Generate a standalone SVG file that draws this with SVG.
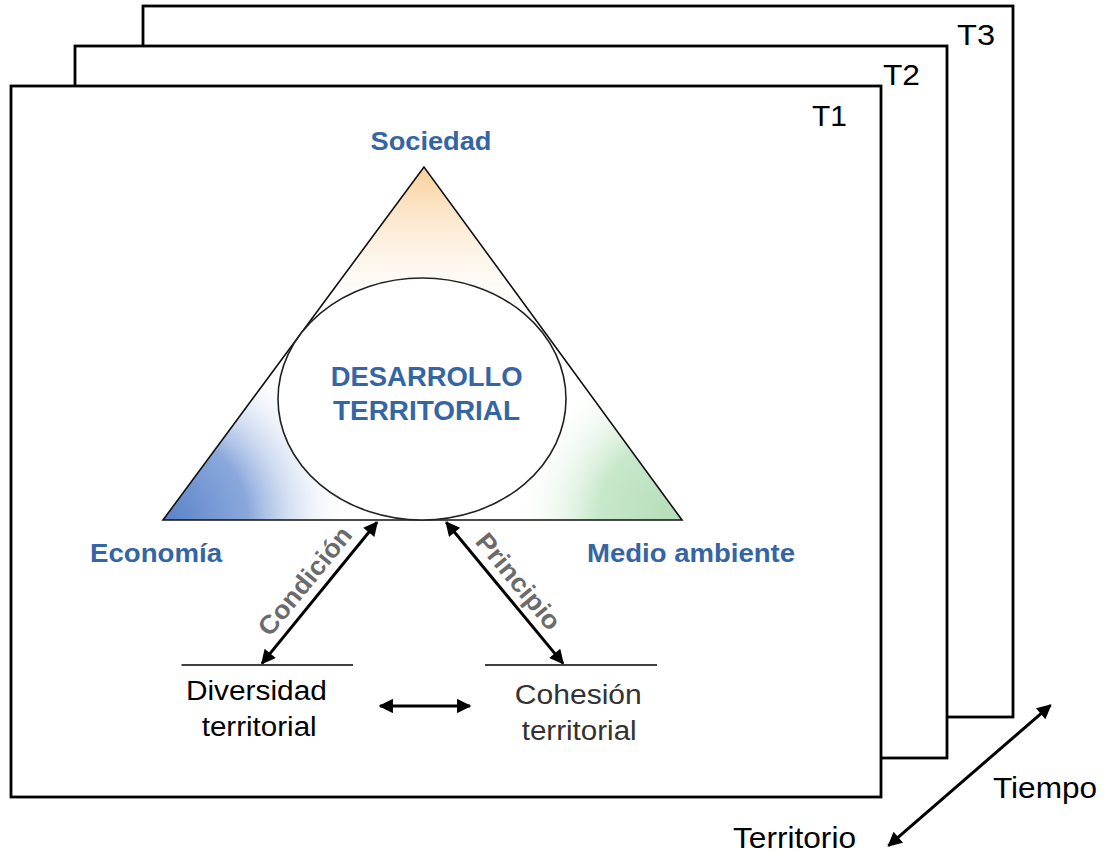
<svg xmlns="http://www.w3.org/2000/svg" width="1108" height="857" viewBox="0 0 1108 857">
<style>
.frame{fill:#fff;stroke:#000;stroke-width:2.8}
.tl{font-family:"Liberation Sans",Arial,sans-serif;font-size:29px;fill:#000}
.blue{font-family:"Liberation Sans",Arial,sans-serif;font-weight:bold;font-size:26px;fill:#3465A4}
.reg{font-family:"Liberation Sans",Arial,sans-serif;font-size:27px;fill:#000}
.gray{font-family:"Liberation Sans",Arial,sans-serif;font-weight:bold;font-size:26px;fill:#6b6b6b}
.arr{stroke:#000;stroke-width:3;fill:none;marker-start:url(#ah);marker-end:url(#ah)}
.ul{stroke:#000;stroke-width:1.5}
</style>
<defs>
<marker id="ah" viewBox="0 0 10 10" refX="9" refY="5" markerWidth="5.5" markerHeight="4.8" markerUnits="strokeWidth" orient="auto-start-reverse">
<path d="M0,0 L10,5 L0,10 z" fill="#000"/>
</marker>
<clipPath id="tri"><path d="M424,167 L163,520 L682,520 z"/></clipPath>
<linearGradient id="gOr" x1="0" y1="167" x2="0" y2="310" gradientUnits="userSpaceOnUse">
<stop offset="0" stop-color="#F8CF98"/>
<stop offset="1" stop-color="#FDF1E2" stop-opacity="0"/>
</linearGradient>
<radialGradient id="gBl" cx="163" cy="520" r="190" gradientUnits="userSpaceOnUse">
<stop offset="0" stop-color="#5A82C8"/>
<stop offset="0.45" stop-color="#8AA8DC"/>
<stop offset="1" stop-color="#FFFFFF" stop-opacity="0"/>
</radialGradient>
<radialGradient id="gGr" cx="682" cy="520" r="170" gradientUnits="userSpaceOnUse">
<stop offset="0" stop-color="#B4DDB8"/>
<stop offset="0.5" stop-color="#C8E8CB"/>
<stop offset="1" stop-color="#FFFFFF" stop-opacity="0"/>
</radialGradient>
</defs>

<g id="frame-T3">
<rect class="frame" x="143" y="6" width="870" height="711"/>
<text class="tl" x="957" y="45" textLength="38" lengthAdjust="spacingAndGlyphs">T3</text>
</g>
<g id="frame-T2">
<rect class="frame" x="75" y="46" width="872" height="712"/>
<text class="tl" x="883" y="85" textLength="37" lengthAdjust="spacingAndGlyphs">T2</text>
</g>
<g id="frame-T1">
<rect class="frame" x="11" y="86" width="870" height="711"/>
<text class="tl" x="812" y="126" textLength="35" lengthAdjust="spacingAndGlyphs">T1</text>
</g>

<g id="triangle">
<path d="M424,167 L163,520 L682,520 z" fill="#fff"/>
<g clip-path="url(#tri)">
<rect x="160" y="160" width="530" height="365" fill="url(#gOr)"/>
<rect x="160" y="160" width="530" height="365" fill="url(#gBl)"/>
<rect x="160" y="160" width="530" height="365" fill="url(#gGr)"/>
</g>
<path d="M424,167 L163,520 L682,520 z" fill="none" stroke="#111" stroke-width="1.6"/>
</g>

<g id="sociedad">
<text class="blue" x="431" y="150" text-anchor="middle" textLength="121" lengthAdjust="spacingAndGlyphs">Sociedad</text>
</g>
<g id="economia">
<text class="blue" x="90" y="562" textLength="132" lengthAdjust="spacingAndGlyphs">Economía</text>
</g>
<g id="medio-ambiente">
<text class="blue" x="587" y="562" textLength="208" lengthAdjust="spacingAndGlyphs">Medio ambiente</text>
</g>

<g id="desarrollo">
<ellipse cx="422" cy="399" rx="144" ry="121" fill="#fff" stroke="#222" stroke-width="1.6"/>
<text class="blue" font-size="27" x="426.7" y="386" text-anchor="middle" textLength="192" lengthAdjust="spacingAndGlyphs" style="font-size:27px">DESARROLLO</text>
<text class="blue" x="426.5" y="420" text-anchor="middle" textLength="187" lengthAdjust="spacingAndGlyphs" style="font-size:27px">TERRITORIAL</text>
</g>

<g id="diversidad">
<line class="ul" x1="181.5" y1="665" x2="353" y2="665"/>
<text class="reg" x="256.4" y="700" text-anchor="middle" textLength="141" lengthAdjust="spacingAndGlyphs">Diversidad</text>
<text class="reg" x="259.2" y="736" text-anchor="middle" textLength="115" lengthAdjust="spacingAndGlyphs">territorial</text>
</g>

<g id="cohesion">
<line class="ul" x1="485" y1="665" x2="657" y2="665"/>
<text class="reg" x="578.3" y="704" text-anchor="middle" textLength="127" lengthAdjust="spacingAndGlyphs" style="fill:#333">Cohesión</text>
<text class="reg" x="579.2" y="740" text-anchor="middle" textLength="115" lengthAdjust="spacingAndGlyphs" style="fill:#333">territorial</text>
</g>

<g id="connectors">
<line class="arr" x1="262" y1="663.4" x2="377" y2="522.3"/>
<line class="arr" x1="446.3" y1="522.3" x2="563" y2="663.4"/>
<line class="arr" x1="380" y1="706" x2="470" y2="706"/>
<line class="arr" x1="888.5" y1="845.7" x2="1050.5" y2="705.3"/>
<text class="gray" transform="translate(311.8,586.5) rotate(-50.8)" text-anchor="middle" textLength="132" lengthAdjust="spacingAndGlyphs">Condición</text>
<text class="gray" transform="translate(511.6,587.1) rotate(50.4)" text-anchor="middle" textLength="117" lengthAdjust="spacingAndGlyphs">Principio</text>
</g>

<g id="axis-labels">
<text class="tl" x="993" y="798" textLength="104" lengthAdjust="spacingAndGlyphs">Tiempo</text>
<text class="tl" x="733" y="848" textLength="123" lengthAdjust="spacingAndGlyphs">Territorio</text>
</g>
</svg>
